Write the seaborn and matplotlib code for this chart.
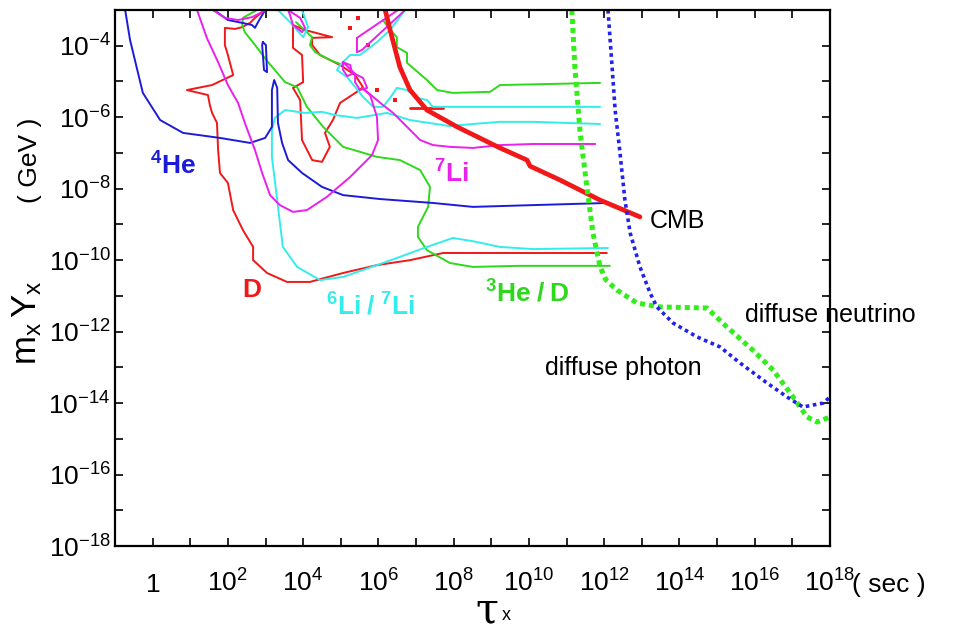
"""
Lifetime vs abundance limits for a late-decaying particle X:
BBN contours (D, 4He, 3He/D, 6Li/7Li, 7Li), CMB distortion and diffuse backgrounds.
All numbers are log10 values read off the reference picture:
tau_x in sec, m_x Y_x in GeV.
"""

import matplotlib
matplotlib.use("Agg")

import matplotlib.pyplot as plt
import numpy as np
import pandas as pd
import seaborn as sns
from matplotlib import font_manager

OUT_PATH = "out.png"

# ---------------- D (red) ----------------
D_OUTER_LOGTAU = [2.91, 2.72, 2.59, 2.38, 2.19, 1.92, 1.92, 2.00, 2.14, 1.58, 0.91, 1.47, 1.52, 1.58,
                  1.71, 1.74, 1.79, 2.00, 2.14, 2.40, 2.67, 2.67, 3.04, 3.57, 4.18, 5.06, 5.96, 6.84,
                  7.72, 8.78, 10.11, 12.07]
D_OUTER_LOGMY = [-3.06, -3.22, -3.36, -3.48, -3.53, -3.50, -3.98, -4.26, -4.82, -5.10, -5.24, -5.38, -5.66,
                 -5.88, -6.16, -6.92, -7.56, -7.84, -8.60, -9.16, -9.63, -10.00, -10.36, -10.61, -10.61,
                 -10.36, -10.14, -10.00, -9.80, -9.80, -9.80, -9.80]
D_INNER_LOGTAU = [3.73, 3.73, 3.97, 4.00, 3.73, 3.92, 3.97, 4.24, 4.50, 4.71, 4.58, 4.79, 4.98, 5.43,
                  5.59, 5.38, 4.98, 4.45, 4.24, 4.24, 4.77, 4.05, 3.73]
D_INNER_LOGMY = [-3.42, -4.06, -4.26, -5.02, -5.18, -5.52, -6.64, -7.20, -7.25, -6.83, -6.44, -6.08, -5.60,
                 -5.29, -5.16, -4.82, -4.54, -4.26, -3.98, -3.78, -3.76, -3.56, -3.42]
D_BAR_LOGTAU = [6.84, 7.72]
D_BAR_LOGMY = [-5.74, -5.74]
D_DOTS_LOGTAU = [5.46, 5.25, 5.72, 5.96, 6.44]
D_DOTS_LOGMY = [-3.22, -3.50, -3.98, -5.24, -5.52]

# ---------------- 4He (blue) ----------------
HE4_LOGTAU = [-0.73, -0.60, -0.26, 0.20, 0.81, 1.79, 2.59, 2.99, 3.17, 3.17, 3.23, 3.31, 3.33, 3.44,
              3.60, 3.97, 4.50, 5.06, 6.04, 7.45, 8.51, 10.11, 12.10]
HE4_LOGMY = [-3.00, -3.84, -5.32, -6.08, -6.44, -6.58, -6.72, -6.58, -6.27, -5.24, -4.96, -5.18, -6.16,
             -6.72, -7.20, -7.56, -7.95, -8.18, -8.29, -8.40, -8.51, -8.46, -8.40]
HE4_LOOP_LOGTAU = [2.93, 3.01, 3.04, 2.96, 2.91, 2.93]
HE4_LOOP_LOGMY = [-3.90, -3.98, -4.74, -4.68, -3.98, -3.90]
HE4_TOP_LOGTAU = [1.71, 2.00, 2.38, 2.64, 2.72, 2.80, 2.99]
HE4_TOP_LOGMY = [-3.06, -3.28, -3.36, -3.42, -3.50, -3.34, -3.00]

# ---------------- 7Li (magenta) ----------------
LI7_OUTER_LOGTAU = [1.18, 1.44, 1.74, 2.00, 2.27, 2.45, 2.72, 2.91, 3.12, 3.38, 3.73, 4.10, 4.63, 5.25,
                    5.83, 5.99, 5.96, 5.78, 5.56]
LI7_OUTER_LOGMY = [-3.00, -3.78, -4.46, -5.10, -5.60, -6.16, -6.92, -7.56, -8.18, -8.46, -8.65, -8.60,
                   -8.23, -7.67, -7.06, -6.64, -5.99, -5.38, -5.18]
LI7_BRANCH_LOGTAU = [5.56, 5.70, 6.12, 6.39, 6.76, 7.11, 7.45, 7.90, 8.51, 9.23, 10.11, 11.76]
LI7_BRANCH_LOGMY = [-5.18, -5.29, -5.66, -5.88, -6.27, -6.64, -6.78, -6.83, -6.86, -6.78, -6.75, -6.75]
LI7_LOOP_A_LOGTAU = [5.06, 5.25, 5.30, 5.17, 5.06, 5.06, 5.38]
LI7_LOOP_A_LOGMY = [-4.46, -4.54, -4.79, -4.85, -4.68, -4.46, -4.79]
LI7_LOOP_B_LOGTAU = [5.38, 5.59, 5.70, 5.51, 5.38, 5.38]
LI7_LOOP_B_LOGMY = [-4.79, -4.90, -5.18, -5.24, -5.02, -4.79]
LI7_TOP_LOGTAU = [1.60, 1.92, 2.27, 2.64, 2.91, 3.01]
LI7_TOP_LOGMY = [-3.00, -3.22, -3.28, -3.20, -3.06, -3.00]
LI7_SMALL_LOGTAU = [3.60, 3.92, 4.05, 3.97, 3.73, 3.65, 3.60]
LI7_SMALL_LOGMY = [-3.00, -3.22, -3.50, -3.62, -3.42, -3.14, -3.00]
LI7_WEDGE_LOGTAU = [5.43, 6.52, 6.71, 5.56, 5.43, 5.43]
LI7_WEDGE_LOGMY = [-3.78, -3.00, -3.00, -4.12, -4.18, -3.78]

# ---------------- 6Li/7Li (cyan) ----------------
LI6_OUTER_LOGTAU = [12.10, 10.11, 9.23, 8.51, 7.98, 7.29, 6.57, 5.96, 5.06, 4.45, 3.84, 3.46, 3.31, 3.17,
                    3.17, 3.25, 3.52, 4.05, 4.50, 4.85, 5.43, 6.23, 6.84, 7.90, 8.51, 9.23, 10.11, 11.89]
LI6_OUTER_LOGMY = [-9.66, -9.69, -9.63, -9.47, -9.38, -9.63, -9.91, -10.14, -10.47, -10.56, -10.19, -9.63,
                   -8.32, -7.11, -6.36, -6.02, -5.80, -5.88, -5.85, -5.94, -6.02, -5.88, -6.08, -6.25,
                   -6.19, -6.13, -6.13, -6.19]
LI6_UPPER_LOGTAU = [6.71, 6.31, 5.96, 5.51, 5.25, 4.98, 4.90, 5.17, 5.59, 5.86, 6.12, 6.31, 6.49, 6.76,
                    7.03, 7.29, 7.45, 8.35, 11.89]
LI6_UPPER_LOGMY = [-3.00, -3.56, -3.90, -4.26, -4.26, -4.54, -4.68, -4.88, -5.43, -5.71, -5.71, -5.46,
                   -5.18, -5.24, -5.46, -5.52, -5.71, -5.71, -5.71]
LI6_TOP_LOGTAU = [3.33, 3.65, 4.00, 4.13, 3.97]
LI6_TOP_LOGMY = [-3.00, -3.34, -3.76, -3.48, -3.00]

# ---------------- 3He/D (green) ----------------
HE3_OUTER_LOGTAU = [2.77, 2.40, 2.38, 2.45, 2.72, 3.07, 3.52, 3.84, 4.10, 4.53, 5.06, 5.96, 6.57, 7.11,
                    7.37, 7.32, 7.05, 7.05, 7.29, 7.90, 8.51, 9.68, 12.15]
HE3_OUTER_LOGMY = [-3.00, -3.22, -3.42, -3.62, -3.98, -4.46, -5.02, -5.16, -5.71, -6.27, -6.83, -7.11,
                   -7.20, -7.48, -7.95, -8.51, -9.07, -9.35, -9.72, -10.08, -10.19, -10.16, -10.16]
HE3_INNER_LOGTAU = [3.81, 4.24, 4.18, 4.32, 4.71, 5.06]
HE3_INNER_LOGMY = [-3.34, -3.76, -3.98, -4.18, -4.40, -4.54]
HE3_UPPER_LOGTAU = [6.12, 6.31, 6.49, 6.49, 6.76, 6.76, 7.29, 7.56, 7.98, 8.97, 9.23, 11.89]
HE3_UPPER_LOGMY = [-3.28, -3.56, -3.76, -4.04, -4.20, -4.48, -4.96, -5.24, -5.32, -5.29, -5.10, -5.04]

# ---------------- CMB (thick red) ----------------
CMB_LOGTAU = [6.18, 6.31, 6.57, 6.84, 7.29, 8.09, 9.23, 9.95, 10.03, 10.83, 11.89, 12.95]
CMB_LOGMY = [-3.00, -3.56, -4.60, -5.24, -5.80, -6.27, -6.86, -7.20, -7.37, -7.76, -8.32, -8.79]

# ---------------- diffuse photon (green dots) ----------------
PHOTON_LOGTAU = [11.14, 11.22, 11.36, 11.54, 11.70, 11.89, 12.05, 12.34, 12.87, 13.48, 14.73, 15.26,
                 15.95, 16.49, 17.02, 17.39, 17.66, 18.00]
PHOTON_LOGMY = [-3.00, -4.60, -6.44, -7.95, -9.24, -10.19, -10.56, -10.84, -11.20, -11.31, -11.34,
                -11.87, -12.52, -13.08, -13.83, -14.39, -14.53, -14.39]

# ---------------- diffuse neutrino (blue dots) ----------------
NEUTRINO_LOGTAU = [12.10, 12.21, 12.29, 12.42, 12.55, 12.69, 12.95, 13.22, 13.40, 13.83, 14.47, 15.08,
                   15.61, 16.33, 16.86, 17.28, 17.82, 18.00]
NEUTRINO_LOGMY = [-3.00, -4.60, -5.80, -7.00, -8.32, -9.24, -10.19, -10.92, -11.31, -11.76, -12.15,
                  -12.43, -12.88, -13.44, -13.83, -14.11, -14.00, -13.83]

# ticks
X_TICK_EXP = list(range(0, 19))
X_TICK_LABELS = ["$1$", "", "$10^{2}$", "", "$10^{4}$", "", "$10^{6}$", "", "$10^{8}$", "",
                 "$10^{10}$", "", "$10^{12}$", "", "$10^{14}$", "", "$10^{16}$", "", "$10^{18}$"]
Y_TICK_EXP = list(range(-18, -3))
Y_TICK_LABELS = ["$10^{-18}$", "", "$10^{-16}$", "", "$10^{-14}$", "", "$10^{-12}$", "",
                 "$10^{-10}$", "", "$10^{-8}$", "", "$10^{-6}$", "", "$10^{-4}$"]

RED = "#f01818"
BLUE = "#1c1cd8"
GREEN = "#2ed81c"
CYAN = "#33ecec"
MAGENTA = "#ec20ec"
DOT_GREEN = "#33ee1a"
DOT_BLUE = "#2222ee"


def curve(ax, logtau, logmy, color, lw=1.4, ls="-"):
    df = pd.DataFrame({"tau": 10.0 ** np.asarray(logtau), "my": 10.0 ** np.asarray(logmy)})
    sns.lineplot(data=df, x="tau", y="my", sort=False, estimator=None, color=color,
                 lw=lw, linestyle=ls, ax=ax, legend=False)


def main():
    sns.set_style("ticks")
    names = {f.name for f in font_manager.fontManager.ttflist}
    narrow = "Liberation Sans Narrow" if "Liberation Sans Narrow" in names else "Liberation Sans"
    tick_size = 22 if narrow == "Liberation Sans Narrow" else 19
    plt.rcParams["font.family"] = [narrow, "DejaVu Sans"]
    plt.rcParams["mathtext.fontset"] = "custom"
    plt.rcParams["mathtext.rm"] = narrow
    plt.rcParams["mathtext.it"] = narrow
    plt.rcParams["mathtext.bf"] = "Liberation Sans:bold"
    plt.rcParams["mathtext.default"] = "rm"
    plt.rcParams["text.color"] = "black"
    plt.rcParams["xtick.color"] = "black"
    plt.rcParams["ytick.color"] = "black"

    fig = plt.figure(figsize=(9.58, 6.32), dpi=100)
    ax = fig.add_axes([115 / 958, 86 / 632, 715 / 958, 536 / 632])
    ax.set_xscale("log")
    ax.set_yscale("log")

    # BBN contours
    curve(ax, D_OUTER_LOGTAU, D_OUTER_LOGMY, RED)
    curve(ax, D_INNER_LOGTAU, D_INNER_LOGMY, RED)
    curve(ax, D_BAR_LOGTAU, D_BAR_LOGMY, RED, lw=2.0)
    sns.scatterplot(x=10.0 ** np.asarray(D_DOTS_LOGTAU), y=10.0 ** np.asarray(D_DOTS_LOGMY),
                    color=RED, marker="s", s=5, linewidth=0, ax=ax, legend=False)

    curve(ax, HE3_OUTER_LOGTAU, HE3_OUTER_LOGMY, GREEN)
    curve(ax, HE3_INNER_LOGTAU, HE3_INNER_LOGMY, GREEN)
    curve(ax, HE3_UPPER_LOGTAU, HE3_UPPER_LOGMY, GREEN)

    curve(ax, LI6_OUTER_LOGTAU, LI6_OUTER_LOGMY, CYAN)
    curve(ax, LI6_UPPER_LOGTAU, LI6_UPPER_LOGMY, CYAN)
    curve(ax, LI6_TOP_LOGTAU, LI6_TOP_LOGMY, CYAN)

    curve(ax, HE4_LOGTAU, HE4_LOGMY, BLUE)
    curve(ax, HE4_LOOP_LOGTAU, HE4_LOOP_LOGMY, BLUE)
    curve(ax, HE4_TOP_LOGTAU, HE4_TOP_LOGMY, BLUE)

    curve(ax, LI7_OUTER_LOGTAU, LI7_OUTER_LOGMY, MAGENTA)
    curve(ax, LI7_BRANCH_LOGTAU, LI7_BRANCH_LOGMY, MAGENTA)
    curve(ax, LI7_LOOP_A_LOGTAU, LI7_LOOP_A_LOGMY, MAGENTA)
    curve(ax, LI7_LOOP_B_LOGTAU, LI7_LOOP_B_LOGMY, MAGENTA)
    curve(ax, LI7_TOP_LOGTAU, LI7_TOP_LOGMY, MAGENTA)
    curve(ax, LI7_SMALL_LOGTAU, LI7_SMALL_LOGMY, MAGENTA)
    curve(ax, LI7_WEDGE_LOGTAU, LI7_WEDGE_LOGMY, MAGENTA)

    # CMB and diffuse backgrounds
    curve(ax, CMB_LOGTAU, CMB_LOGMY, RED, lw=3.4)
    curve(ax, PHOTON_LOGTAU, PHOTON_LOGMY, DOT_GREEN, lw=3.6, ls=(0, (1, 0.8)))
    curve(ax, NEUTRINO_LOGTAU, NEUTRINO_LOGMY, DOT_BLUE, lw=2.6, ls=(0, (1, 1.0)))

    ax.set_xlim(1e-1, 1e18)
    ax.set_ylim(1e-18, 1e-3)
    ax.set_xlabel("")
    ax.set_ylabel("")
    ax.set_xticks([10.0 ** e for e in X_TICK_EXP], X_TICK_LABELS)
    ax.set_yticks([10.0 ** e for e in Y_TICK_EXP], Y_TICK_LABELS)
    ax.minorticks_off()
    ax.tick_params(which="major", direction="in", length=6, width=1.2,
                   top=True, right=True, labelsize=tick_size, colors="black")
    ax.tick_params(axis="x", pad=33)
    ax.tick_params(axis="y", pad=3)
    for lbl in ax.get_xticklabels():
        lbl.set_va("baseline")
    for side in ax.spines.values():
        side.set_linewidth(1.6)
        side.set_color("black")

    # curve labels
    bold = dict(fontweight="bold", fontsize=19, ha="center", va="center")
    ax.text(10 ** 0.54, 10 ** -7.37, r"$\mathbf{^{4}He}$", color=BLUE, **bold)
    ax.text(10 ** 2.64, 10 ** -10.84, r"$\mathbf{D}$", color=RED, **bold)
    ax.text(10 ** 5.78, 10 ** -11.31, r"$\mathbf{^{6}Li\;/\;^{7}Li}$", color=CYAN, **bold)
    ax.text(10 ** 7.93, 10 ** -7.59, r"$\mathbf{^{7}Li}$", color=MAGENTA, **bold)
    ax.text(10 ** 9.95, 10 ** -10.92, r"$\mathbf{^{3}He\;/\;D}$", color=GREEN, **bold)

    plain = dict(fontsize=18, family=["Liberation Sans", "DejaVu Sans"], va="center", ha="left",
                 color="black")
    ax.text(10 ** 13.22, 10 ** -8.91, "CMB", **plain)
    ax.text(10 ** 15.74, 10 ** -11.54, "diffuse neutrino", **plain)
    ax.text(10 ** 10.43, 10 ** -13.02, "diffuse photon", **plain)

    # axis titles
    fig.text(487 / 958, 1 - 610 / 632, "\u03c4", fontsize=30, family=["DejaVu Serif"],
             ha="center", va="center")
    fig.text(506 / 958, 1 - 616 / 632, "x", fontsize=13, ha="center", va="center")
    fig.text(852 / 958, 1 - 592 / 632, "( sec )", fontsize=tick_size, ha="left", va="baseline")
    fig.text(27 / 958, 1 - 323 / 632, r"$\mathrm{m_x\,Y_x}$", fontsize=25, rotation=90,
             ha="center", va="center")
    fig.text(30 / 958, 1 - 160 / 632, "( GeV )", fontsize=19, rotation=90,
             ha="center", va="center")

    fig.savefig(OUT_PATH, dpi=100, facecolor="white")
    plt.close(fig)


if __name__ == "__main__":
    main()
